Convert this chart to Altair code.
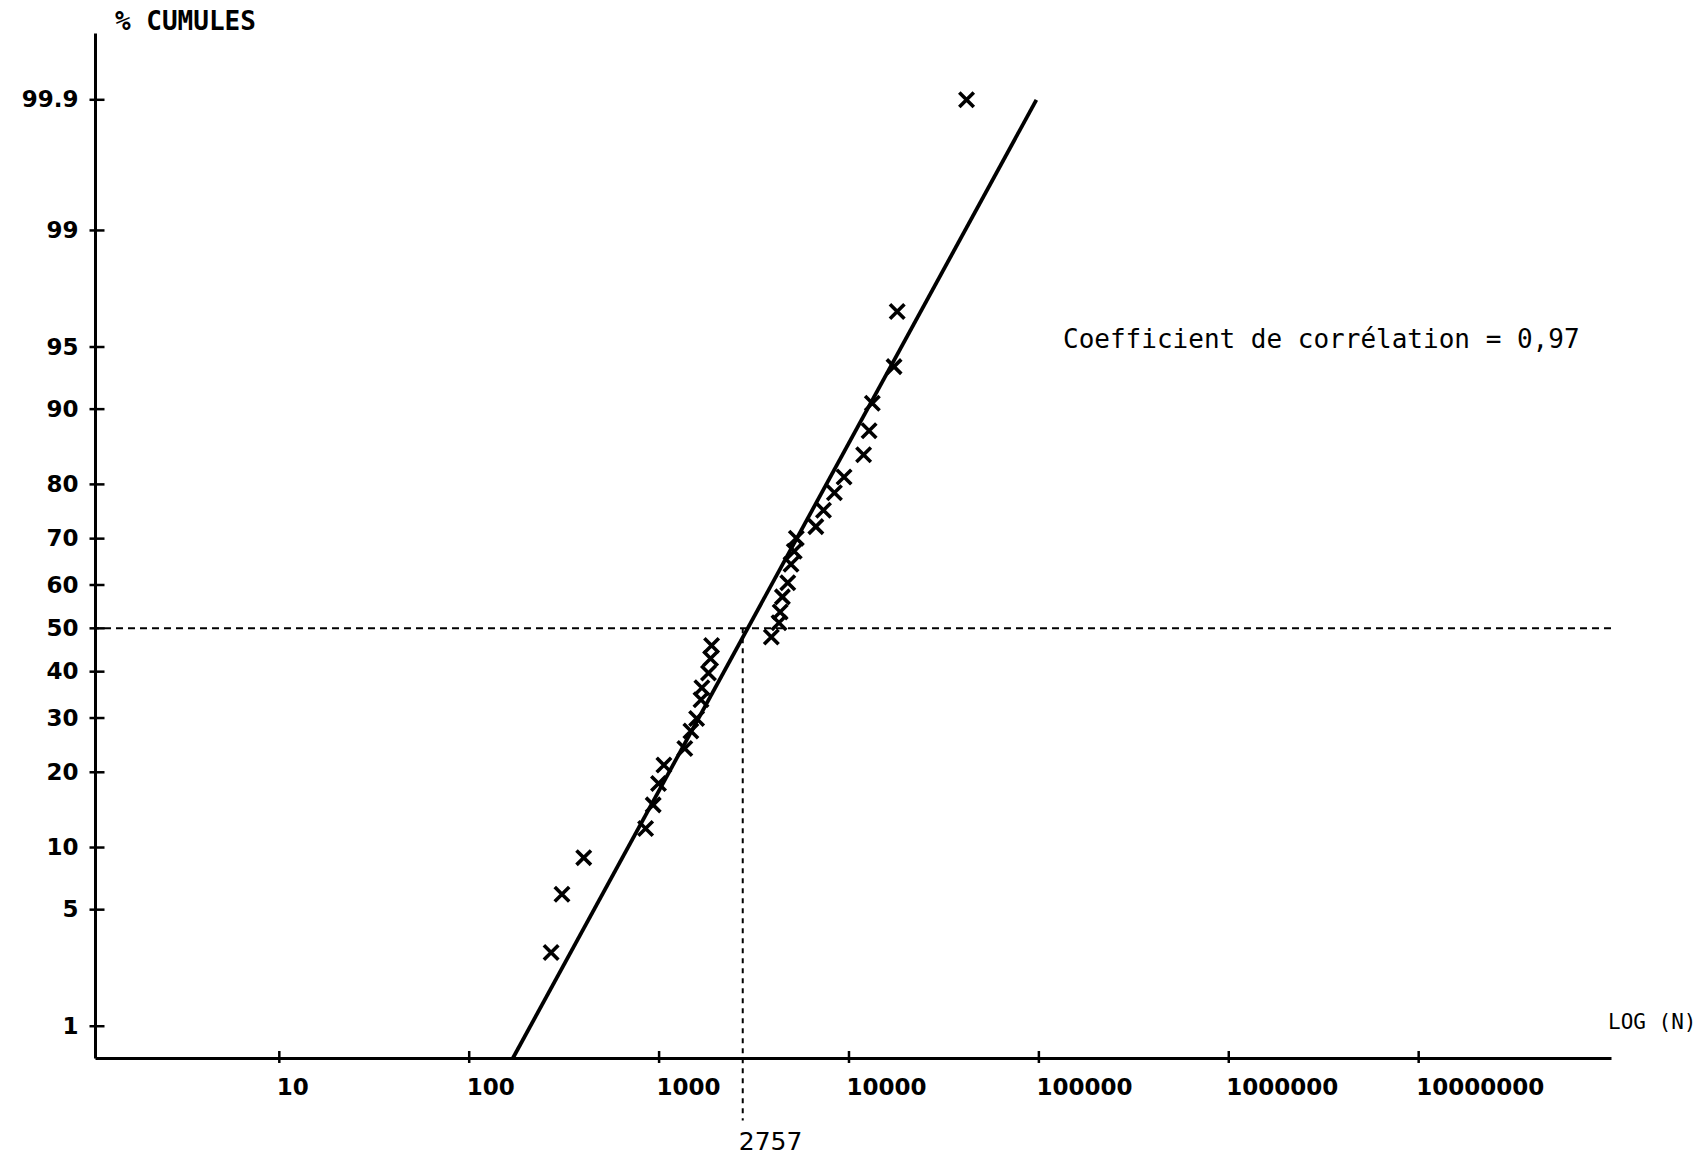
import altair as alt
import pandas as pd
from statistics import NormalDist

# ---------------- data ----------------
n_obs = [270, 308, 401, 849, 931, 993, 1060, 1366, 1470, 1576, 1662, 1680, 1820, 1867, 1890, 3900,
         4280, 4340, 4460, 4760, 4950, 5150, 5280, 6690, 7340, 8380, 9420, 11940, 12760, 13270,
         17270, 17940, 41600]
pct_obs = [2.9, 6.0, 9.0, 12.1, 15.1, 18.2, 21.2, 24.1, 27.4, 29.9, 33.8, 36.4, 39.7, 43.0, 46.0, 48.0,
           51.3, 53.8, 57.3, 60.5, 64.6, 67.4, 70.1, 72.4, 75.5, 78.6, 81.2, 84.5, 87.6, 90.6,
           93.7, 96.8, 99.9]

fit_n = [170, 97000]
fit_pct = [0.6, 99.9]

median_n = [2757]
median_pct = [50]
median_guide_end_pct = [0.2]
median_label = ["2757"]

y_tick_pcts = [1, 5, 10, 20, 30, 40, 50, 60, 70, 80, 90, 95, 99, 99.9]
x_tick_vals = [10, 100, 1000, 10000, 100000, 1000000, 10000000]
x_domain = [1.07, 1.03e8]
y_domain_pct = [0.6, 99.975]

annotation = ["Coefficient de corrélation = 0,97"]
y_title = ["% CUMULES"]
x_title = ["LOG (N)"]

# ---------------- layout ----------------
W, H = 1516, 1025
MONO = "DejaVu Sans Mono"
SANS = "DejaVu Sans"

nd = NormalDist()
y_domain = [nd.inv_cdf(p / 100) for p in y_domain_pct]
y_tick_z = [nd.inv_cdf(p / 100) for p in y_tick_pcts]

x_enc = alt.X(
    "n:Q",
    scale=alt.Scale(type="log", domain=x_domain, nice=False),
    axis=alt.Axis(values=x_tick_vals, format="d", title=None, grid=False,
                  labelAlign="left", labelOffset=-3, labelPadding=10,
                  labelFlush=False, labelOverlap=False),
)
y_enc = alt.Y(
    "z:Q",
    scale=alt.Scale(domain=y_domain, nice=False, zero=False),
    axis=alt.Axis(values=y_tick_z, title=None, grid=False,
                  labelExpr="toString(round(cumulativeNormal(datum.value)*1000)/10)",
                  labelPadding=9, labelOverlap=False, labelFlush=False),
)

obs_df = pd.DataFrame({"n": n_obs, "pct": pct_obs})
fit_df = pd.DataFrame({"n": fit_n, "pct": fit_pct})
med_df = pd.DataFrame({"n": median_n, "pct": median_pct,
                       "pct2": median_guide_end_pct, "label": median_label})
ytick_df = pd.DataFrame({"pct": y_tick_pcts})
xtick_df = pd.DataFrame({"n": x_tick_vals})

zcalc = "quantileNormal(datum.pct/100)"

points = alt.Chart(obs_df).transform_calculate(z=zcalc).mark_point(
    shape="M-1,-1L1,1M-1,1L1,-1", filled=False, stroke="black",
    strokeWidth=3.6, size=210, opacity=1,
).encode(x=x_enc, y=y_enc)

fit_line = alt.Chart(fit_df).transform_calculate(z=zcalc).mark_line(
    color="black", strokeWidth=3.8,
).encode(x=x_enc, y=y_enc)

h_guide = alt.Chart(med_df).transform_calculate(z=zcalc).mark_rule(
    color="black", strokeWidth=2, strokeDash=[7, 5],
).encode(y=y_enc)

v_guide = alt.Chart(med_df).transform_calculate(
    z=zcalc, z2="quantileNormal(datum.pct2/100)"
).mark_rule(
    color="black", strokeWidth=2, strokeDash=[5, 5],
).encode(x=x_enc, y=y_enc, y2="z2:Q")

# crossing tick marks on both axes
y_ticks = alt.Chart(ytick_df).transform_calculate(z=zcalc).mark_tick(
    orient="horizontal", color="black", size=15, thickness=2.5, opacity=1,
).encode(y=y_enc, x=alt.value(2))

x_ticks = alt.Chart(xtick_df).mark_tick(
    orient="vertical", color="black", size=12, thickness=2.5, opacity=1,
).encode(x=x_enc, y=alt.value(H - 1))

v_label = alt.Chart(med_df).mark_text(
    align="left", baseline="middle", font=SANS, fontSize=25, dx=-4, color="black",
).encode(x=x_enc, y=alt.value(H + 84), text="label:N")

ann = alt.Chart(pd.DataFrame({"t": annotation})).mark_text(
    align="left", baseline="middle", font=MONO, fontSize=26, color="black",
).encode(x=alt.value(968), y=alt.value(307), text="t:N")

ytitle = alt.Chart(pd.DataFrame({"t": y_title})).mark_text(
    align="left", baseline="middle", font=MONO, fontSize=26, fontWeight="bold", color="black",
).encode(x=alt.value(20), y=alt.value(-11), text="t:N")

xtitle = alt.Chart(pd.DataFrame({"t": x_title})).mark_text(
    align="left", baseline="middle", font=MONO, fontSize=21, color="black",
).encode(x=alt.value(1513), y=alt.value(990), text="t:N")

chart = alt.layer(
    h_guide, v_guide, fit_line, points, y_ticks, x_ticks, v_label, ann, ytitle, xtitle
).properties(
    width=W, height=H,
    autosize=alt.AutoSizeParams(type="none"),
    padding={"left": 95, "right": 95, "top": 33, "bottom": 99},
    background="white",
).configure_view(
    stroke=None
).configure_axis(
    domainColor="black", domainWidth=3, tickColor="black", tickOpacity=0, tickWidth=2.5, tickSize=8,
    labelFont=SANS, labelFontWeight="bold", labelFontSize=23, labelColor="black",
)

chart.save("out.html", embed_options={"renderer": "svg", "actions": False})
